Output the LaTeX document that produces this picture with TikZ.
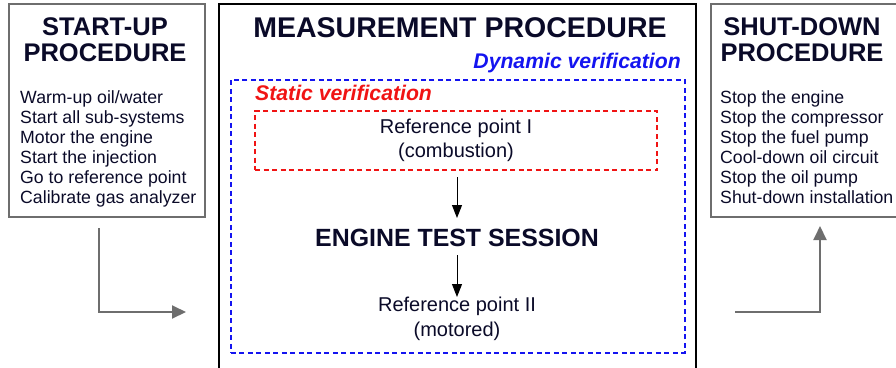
\documentclass[tikz,border=0pt]{standalone}
\usepackage{fontspec}
\setmainfont{Liberation Sans}
\usetikzlibrary{arrows.meta}
\definecolor{textc}{RGB}{10,10,40}
\definecolor{grayline}{RGB}{110,110,110}
\definecolor{dynblue}{RGB}{20,20,240}
\definecolor{statred}{RGB}{240,20,20}
\tikzset{
  procbox/.style={draw=grayline, line width=1.5pt, anchor=north west, inner sep=0pt},
  mainbox/.style={draw=black, line width=2pt, anchor=north west, inner sep=0pt},
  bluebox/.style={draw=dynblue, line width=1.6pt, dash pattern=on 5pt off 3.5pt, anchor=north west, inner sep=0pt},
  redbox/.style={draw=statred, line width=1.6pt, dash pattern=on 5pt off 3.5pt, inner sep=0pt, text=textc, align=center, font=\fontsize{20}{24}\selectfont},
  titletext/.style={text=textc, align=center, inner sep=0pt, font=\bfseries\fontsize{25.5}{26}\selectfont},
  listtext/.style={text=textc, align=left, inner sep=0pt, anchor=north west, font=\fontsize{17.7}{20}\selectfont},
  bodytext/.style={text=textc, align=center, inner sep=0pt, font=\fontsize{20}{25}\selectfont},
  garrow/.style={draw=grayline, line width=2pt, -{Triangle[width=13pt,length=14pt]}},
  karrow/.style={draw=black, line width=1pt, -{Triangle[width=10pt,length=13pt]}},
}
\begin{document}
\begin{tikzpicture}[x=1pt,y=-1pt]
\useasboundingbox (0,0) rectangle (896,367);
% boxes
\node[procbox, minimum width=196pt, minimum height=213pt] (startbox) at (8,3) {};
\node[procbox, minimum width=220pt, minimum height=213pt] (shutbox) at (710,3) {};
\node[mainbox, minimum width=477pt, minimum height=400pt] (measbox) at (218,3) {};
\node[bluebox, minimum width=454pt, minimum height=273pt] (dynbox) at (230,79) {};
% left box text
\node[titletext] (starttitle) at (105,40) {START-UP\\PROCEDURE};
\node[listtext] (startlist) at (20,90) {Warm-up oil/water\\Start all sub-systems\\Motor the engine\\Start the injection\\Go to reference point\\Calibrate gas analyzer};
% right box text
\node[titletext] (shuttitle) at (802,40) {SHUT-DOWN\\PROCEDURE};
\node[listtext] (shutlist) at (720,90) {Stop the engine\\Stop the compressor\\Stop the fuel pump\\Cool-down oil circuit\\Stop the oil pump\\Shut-down installation};
% middle
\node[text=textc, inner sep=0pt, font=\bfseries\fontsize{28.5}{32}\selectfont] (meastitle) at (460,28) {MEASUREMENT PROCEDURE};
\node[text=dynblue, inner sep=0pt, anchor=east, font=\bfseries\itshape\fontsize{21.2}{24}\selectfont] (dynlabel) at (681,63) {Dynamic verification};
\node[text=statred, inner sep=0pt, anchor=west, font=\bfseries\itshape\fontsize{21.2}{24}\selectfont] (statlabel) at (255,93) {Static verification};
\node[redbox, minimum width=402pt, minimum height=59pt] (ref1) at (456,140.5) {Reference point I\\(combustion)};
\node[text=textc, inner sep=0pt, font=\bfseries\fontsize{24.9}{28}\selectfont] (ets) at (457,238) {ENGINE TEST SESSION};
\node[bodytext] (ref2) at (457,319) {Reference point II\\(motored)};
% arrows
\coordinate (a1s) at (457,177);
\coordinate (a1e) at (457,218);
\coordinate (a2s) at (457,255);
\coordinate (a2e) at (457,297);
\draw[karrow] (a1s) -- (a1e);
\draw[karrow] (a2s) -- (a2e);
\coordinate (ls) at (99,228);
\coordinate (le) at (186,312);
\draw[garrow] (ls) |- (le);
\coordinate (rs) at (735,312);
\coordinate (re) at (820,226);
\draw[garrow] (rs) -| (re);
\end{tikzpicture}
\end{document}
